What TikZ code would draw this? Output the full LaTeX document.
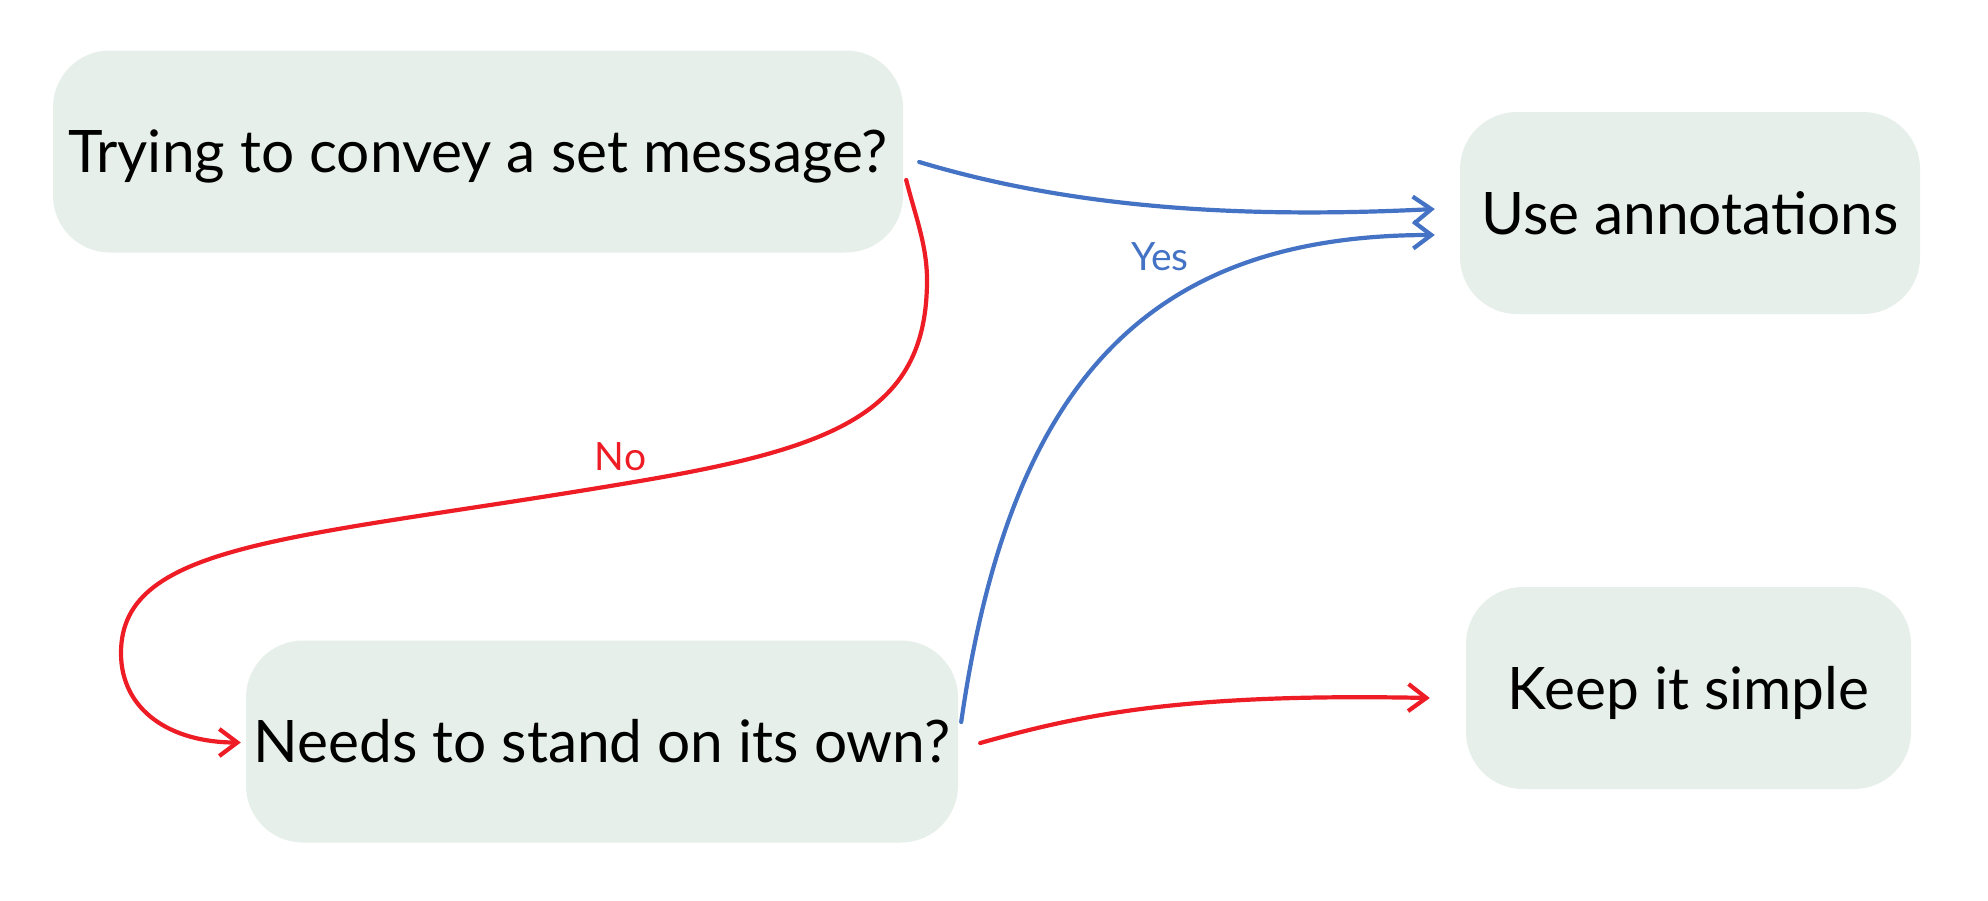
\documentclass[tikz,border=0pt]{standalone}
\usepackage{fontspec}
\setmainfont{Lato}
\usetikzlibrary{arrows.meta,calc}
\definecolor{boxfill}{HTML}{E7EFEA}
\definecolor{ablue}{HTML}{4472C4}
\definecolor{ared}{HTML}{EE1C25}
\begin{document}
\begin{tikzpicture}[x=1pt,y=-1pt,
  box/.style={rectangle, rounded corners=57pt, fill=boxfill, inner sep=0pt,
    text height=42pt, text depth=0pt, minimum height=202pt,
    font=\fontsize{58.6pt}{70pt}\selectfont},
  conn/.style={line width=4.2pt, line cap=round,
    -{Straight Barb[length=18pt,width=27pt,line width=4.2pt]}},
  lbl/.style={anchor=base, inner sep=0pt, font=\fontsize{39pt}{45pt}\selectfont}]
\useasboundingbox (0,0) rectangle (1988,900);
\fill[white] (0,0) rectangle (1988,900);

\node[box, minimum width=850pt] (b1) at (478,151.5) {Trying to convey a set message?};
\node[box, minimum width=460pt] (b2) at (1690,213) {Use annotations};
\node[box, minimum width=712pt] (b3) at (602,741.5) {Needs to stand on its own?};
\node[box, minimum width=445pt] (b4) at (1688.5,688) {Keep it simple};

% blue: b1 -> b2
\draw[conn, ablue] ($(b1.east)+(16,10.5)$) .. controls +(150,45) and +(-200,10) .. ($(b2.west)+(-25,-4)$);
% blue: b3 -> b2 (Yes)
\draw[conn, ablue] ($(b3.east)+(3,-19.5)$) .. controls +(49,-342) and +(-285,0) .. ($(b2.west)+(-25,22)$);
% red: b1 -> b3 (No)
\draw[conn, ared] ($(b1.east)+(3,28.5)$) .. controls (915,215) and (927,245) .. (927,280)
   .. controls (927,410) and (840,447) .. (640,481)
   .. controls (300,539) and (121,540) .. (121,653)
   .. controls (121,710) and (170,742.5) .. ($(b3.west)+(-5,1)$);
% red: b3 -> b4
\draw[conn, ared] ($(b3.east)+(22,1.5)$) .. controls +(100,-28) and +(-250,-5) .. ($(b4.west)+(-36,10)$);

\node[lbl, text=ablue] (yes) at (1160,270) {Yes};
\node[lbl, text=ared] (no) at (620.5,470) {No};
\end{tikzpicture}
\end{document}
